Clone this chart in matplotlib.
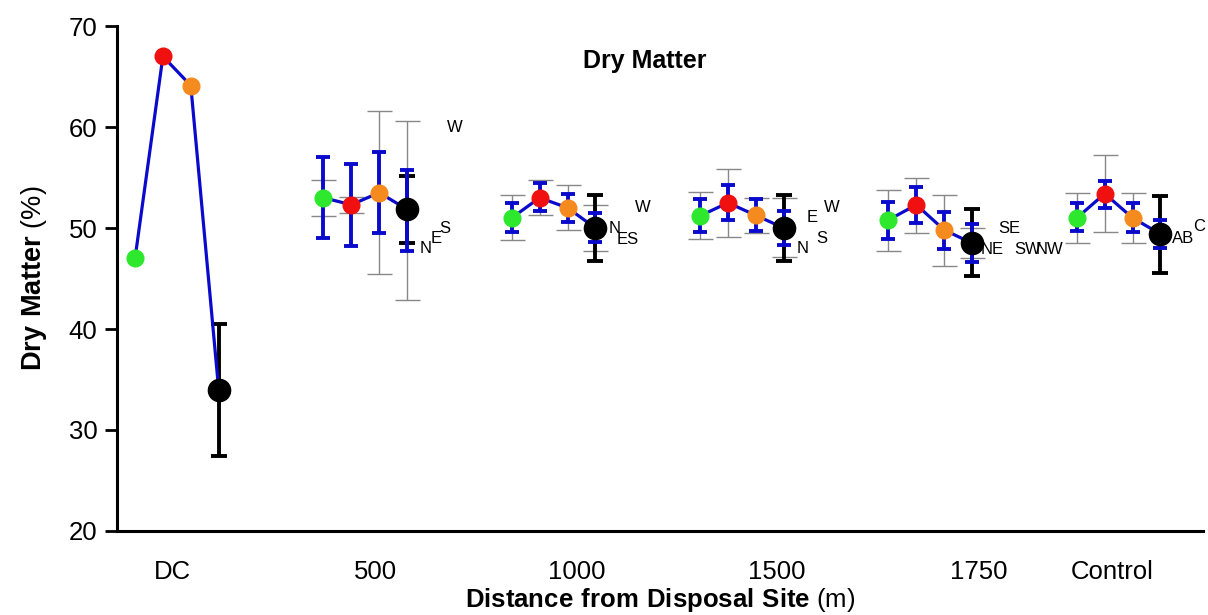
import numpy as np
import matplotlib
matplotlib.use("Agg")
import matplotlib.pyplot as plt

plt.rcParams['font.family'] = ['Liberation Sans', 'DejaVu Sans']
plt.rcParams['mathtext.fontset'] = 'custom'
plt.rcParams['mathtext.bf'] = 'Liberation Sans:bold'
plt.rcParams['mathtext.rm'] = 'Liberation Sans'

# sites (groups) and the four points in each group
groups = ['DC', '500', '1000', '1500', '1750', 'Control']
tick_pos = [0.196, 1.279, 2.346, 3.408, 4.48, 5.19]

green = [47.0, 53.0, 51.0, 51.2, 50.8, 51.0]
red = [67.0, 52.3, 53.0, 52.5, 52.3, 53.4]
orange = [64.1, 53.5, 52.0, 51.25, 49.8, 51.0]
black = [34.0, 51.85, 50.0, 50.0, 48.5, 49.4]

nan = np.nan
# blue error bars (low, high)
green_blue = [(nan, nan), (49.0, 57.0), (49.6, 52.45), (49.6, 52.9), (48.9, 52.6), (49.7, 52.45)]
red_blue = [(nan, nan), (48.25, 56.3), (51.7, 54.5), (50.8, 54.25), (50.45, 54.1), (51.95, 54.7)]
orange_blue = [(nan, nan), (49.5, 57.5), (50.6, 53.4), (49.7, 52.85), (47.9, 51.6), (49.6, 52.45)]
black_blue = [(nan, nan), (47.75, 55.7), (48.65, 51.5), (48.3, 51.7), (46.65, 50.35), (48.05, 50.75)]

# gray error bars (low, high)
green_gray = [(nan, nan), (51.2, 54.8), (48.8, 53.25), (48.9, 53.6), (47.7, 53.75), (48.55, 53.5)]
red_gray = [(nan, nan), (51.5, 53.05), (51.3, 54.8), (49.1, 55.8), (49.55, 55.0), (49.6, 57.2)]
orange_gray = [(nan, nan), (45.4, 61.6), (49.8, 54.25), (49.5, 53.0), (46.2, 53.3), (48.55, 53.5)]
black_gray = [(nan, nan), (42.9, 60.6), (47.75, 52.3), (47.1, 52.95), (47.0, 50.05), (nan, nan)]

# black error bars on the black point
black_black = [(27.4, 40.5), (48.5, 55.1), (46.7, 53.3), (46.7, 53.3), (45.2, 51.85), (45.5, 53.15)]

# direction letters
ann_text = ['W', 'N', 'E', 'S',
            'W', 'N', 'ES',
            'W', 'E', 'S', 'N',
            'SE', 'NE', 'SW', 'NW',
            'AB', 'C']
ann_x = [1.699, 1.545, 1.597, 1.645,
         2.696, 2.548, 2.617,
         3.70, 3.593, 3.646, 3.546,
         4.644, 4.549, 4.74, 4.857,
         5.563, 5.648]
ann_y = [60.0, 48.0, 49.0, 50.0,
         52.0, 50.0, 48.9,
         52.0, 51.0, 49.0, 48.0,
         50.0, 47.9, 47.9, 47.9,
         49.0, 50.1]

step = 0.148
series = [
    (green, green_blue, green_gray, '#2ee82e', 12),
    (red, red_blue, red_gray, '#f01010', 12),
    (orange, orange_blue, orange_gray, '#f58a1f', 12),
    (black, black_blue, black_gray, 'black', 16),
]

fig = plt.figure(figsize=(12.08, 6.15), dpi=100)
ax = fig.add_axes([0.0969, 0.1366, 0.899, 0.8211])


def bars(x, y, lohi, color, lw, cap, z):
    lo, hi = lohi
    if np.isnan(lo):
        return
    ax.errorbar([x], [y], yerr=[[y - lo], [hi - y]], fmt='none', ecolor=color,
                elinewidth=lw, capsize=cap, capthick=lw, zorder=z)


for g in range(len(groups)):
    xs = [g + j * step for j in range(4)]
    ys = [s[0][g] for s in series]
    for j, (vals, blue, gray, col, ms) in enumerate(series):
        bars(xs[j], vals[g], gray[g], '#888888', 1.0, 9, 1)
        if j == 3:
            bars(xs[j], vals[g], black_black[g], 'black', 2.8, 6, 2)
        bars(xs[j], vals[g], blue[g], '#0a0acc', 2.8, 5, 3)
    ax.plot(xs, ys, color='#0a0acc', lw=2.3, zorder=4)
    for j, (vals, blue, gray, col, ms) in enumerate(series):
        ax.plot(xs[j], vals[g], 'o', color=col, ms=ms, mec=col, zorder=5)

for t, x, y in zip(ann_text, ann_x, ann_y):
    ax.text(x, y, t, fontsize=12, ha='center', va='center', zorder=6)

ax.set_xlim(-0.0955, 5.67)
ax.set_ylim(20, 70)
ax.set_yticks([20, 30, 40, 50, 60, 70])
ax.set_xticks(tick_pos)
ax.set_xticklabels(groups)
ax.tick_params(axis='y', direction='out', length=9, width=2, labelsize=18.5, pad=5)
ax.tick_params(axis='x', length=0, labelsize=18.5, pad=21)
ax.spines['top'].set_visible(False)
ax.spines['right'].set_visible(False)
ax.spines['left'].set_linewidth(2.2)
ax.spines['bottom'].set_linewidth(2.2)

ax.text(0.486, 0.955, 'Dry Matter', transform=ax.transAxes, fontsize=18,
        fontweight='bold', ha='center', va='top')
ax.set_ylabel(r'$\mathbf{Dry\ Matter}$ (%)', fontsize=19.5, labelpad=14)
ax.set_xlabel(r'$\mathbf{Distance\ from\ Disposal\ Site}$ (m)', fontsize=18.5, labelpad=1)

fig.savefig('out.png', dpi=100)
